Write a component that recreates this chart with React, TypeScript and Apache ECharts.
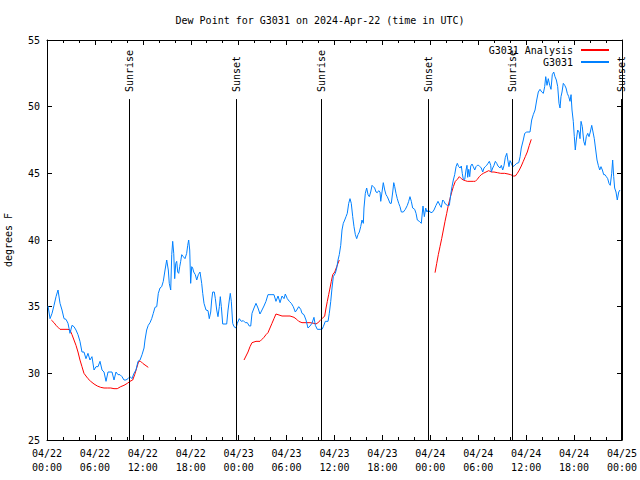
import React, { useEffect, useRef } from "react";
import * as echarts from "echarts";

// hours since 2024-04-22 00:00 UTC, dew point (°F)
const g3031Obs: [number, number][] = [
  [0.13, 35.05], [0.38, 34.1], [0.63, 34.5], [0.88, 35.1], [1.13, 35.75], [1.38, 36.25], [1.63, 35.25], [1.88, 34.75],
  [2.13, 34.1], [2.38, 34.05], [2.63, 33.75], [2.88, 33.0], [3.13, 33.6], [3.38, 33.5], [3.63, 33.25], [3.88, 32.9],
  [4.13, 32.4], [4.38, 31.6], [4.63, 31.6], [4.88, 31.1], [5.13, 31.5], [5.38, 31.0], [5.63, 31.25], [5.89, 30.25],
  [6.14, 30.5], [6.39, 30.5], [6.64, 30.9], [6.89, 30.25], [7.14, 30.1], [7.39, 29.4], [7.64, 30.1], [7.89, 30.1],
  [8.14, 30.1], [8.39, 29.5], [8.64, 30.1], [8.89, 29.9], [9.14, 29.9], [9.39, 29.75], [9.64, 29.5], [9.89, 29.5],
  [10.14, 29.6], [10.39, 29.75], [10.64, 29.6], [10.89, 30.0], [11.14, 30.25], [11.4, 30.9], [11.65, 31.0], [11.9, 31.4],
  [12.15, 31.9], [12.27, 32.5], [12.48, 33.25], [12.68, 33.6], [12.9, 33.8], [13.11, 34.1], [13.31, 34.5], [13.52, 34.95],
  [13.74, 35.0], [13.94, 36.0], [14.15, 36.4], [14.36, 36.5], [14.56, 36.9], [14.78, 37.75], [14.99, 38.5], [15.19, 37.75],
  [15.31, 36.75], [15.49, 36.25], [15.62, 38.9], [15.74, 39.9], [15.87, 39.0], [15.99, 37.1], [16.12, 38.25], [16.24, 38.4],
  [16.37, 37.6], [16.49, 37.5], [16.62, 38.0], [16.74, 38.4], [16.87, 38.9], [17.07, 38.75], [17.28, 38.6], [17.49, 39.0],
  [17.62, 39.6], [17.74, 40.0], [17.87, 39.25], [17.99, 36.75], [18.12, 38.0], [18.24, 37.9], [18.37, 37.6], [18.57, 37.4],
  [18.75, 37.0], [18.95, 37.4], [19.16, 37.6], [19.37, 36.75], [19.5, 36.0], [19.66, 35.25], [19.91, 34.75], [20.16, 34.7],
  [20.32, 34.1], [20.5, 34.6], [20.62, 35.5], [20.75, 36.1], [20.95, 36.1], [21.08, 35.6], [21.25, 34.75], [21.41, 34.25],
  [21.58, 35.0], [21.7, 35.75], [21.83, 35.0], [22.0, 33.7], [22.29, 33.7], [22.5, 33.7], [22.67, 34.75], [22.83, 35.5],
  [22.95, 36.0], [23.08, 35.4], [23.25, 33.75], [23.42, 33.5], [23.67, 33.4], [23.83, 33.75], [24.08, 34.1], [24.33, 33.9],
  [24.58, 33.95], [24.83, 33.8], [25.08, 33.8], [25.33, 33.55], [25.51, 33.55], [25.67, 34.5], [25.92, 34.9], [26.17, 35.25],
  [26.42, 34.9], [26.67, 34.45], [26.92, 34.75], [27.17, 35.05], [27.42, 35.4], [27.67, 35.9], [27.92, 35.9], [28.17, 35.9],
  [28.42, 35.9], [28.67, 35.4], [28.93, 35.8], [29.18, 35.3], [29.43, 35.8], [29.68, 35.6], [29.84, 35.95], [30.09, 35.6],
  [30.34, 35.4], [30.59, 35.25], [30.84, 35.0], [31.09, 34.6], [31.27, 34.75], [31.52, 35.0], [31.77, 34.8], [31.93, 34.5],
  [32.18, 34.4], [32.43, 34.0], [32.68, 33.4], [32.93, 33.55], [33.18, 33.75], [33.43, 34.2], [33.6, 33.6], [33.85, 33.3],
  [34.19, 33.3], [34.44, 33.3], [34.6, 33.5], [34.85, 33.9], [35.19, 33.9], [35.35, 34.5], [35.53, 35.4], [35.69, 36.4],
  [35.85, 37.25], [36.1, 37.5], [36.28, 37.9], [36.44, 38.5], [36.6, 38.9], [36.78, 39.6], [36.94, 40.75], [37.1, 41.25],
  [37.28, 41.5], [37.44, 41.75], [37.6, 42.0], [37.78, 42.75], [37.94, 43.1], [38.1, 42.75], [38.28, 41.75], [38.44, 41.0],
  [38.61, 40.4], [38.78, 40.1], [38.94, 40.4], [39.11, 40.6], [39.28, 41.0], [39.44, 41.5], [39.61, 41.25], [39.69, 42.4],
  [39.86, 43.5], [40.03, 43.9], [40.2, 43.4], [40.36, 43.25], [40.53, 43.6], [40.7, 44.1], [40.86, 44.0], [41.03, 43.9],
  [41.2, 43.6], [41.36, 43.55], [41.54, 43.7], [41.7, 43.6], [41.79, 42.9], [41.95, 43.6], [42.11, 44.3], [42.29, 43.75],
  [42.45, 43.4], [42.61, 43.25], [42.79, 43.0], [42.95, 42.75], [43.11, 42.75], [43.29, 43.6], [43.42, 44.3], [43.54, 44.0],
  [43.7, 43.5], [43.86, 43.1], [44.04, 42.75], [44.2, 42.5], [44.37, 42.1], [44.62, 42.1], [44.87, 42.3], [45.12, 42.6],
  [45.29, 42.9], [45.45, 43.25], [45.62, 42.9], [45.79, 42.4], [46.04, 42.3], [46.21, 42.0], [46.37, 41.5], [46.62, 41.4],
  [46.87, 41.25], [47.08, 42.55], [47.25, 41.75], [47.42, 42.4], [47.58, 42.1], [47.75, 42.25], [47.96, 42.1], [48.21, 42.05],
  [48.46, 42.25], [48.71, 42.6], [48.96, 42.9], [49.21, 42.6], [49.37, 42.45], [49.55, 43.0], [49.71, 42.9], [49.88, 42.7],
  [50.13, 42.6], [50.38, 42.6], [50.55, 43.4], [50.71, 44.0], [50.88, 44.5], [51.05, 44.9], [51.22, 45.5], [51.38, 45.75],
  [51.55, 45.5], [51.72, 45.4], [51.88, 45.55], [52.0, 45.0], [52.13, 44.55], [52.31, 44.55], [52.47, 45.25], [52.59, 45.6],
  [52.68, 44.7], [52.81, 45.3], [52.93, 44.75], [53.06, 45.55], [53.22, 45.7], [53.38, 45.5], [53.56, 45.25], [53.72, 45.5],
  [53.88, 45.6], [54.06, 45.6], [54.22, 45.5], [54.38, 45.4], [54.56, 45.1], [54.72, 45.4], [54.88, 45.5], [55.06, 45.6],
  [55.22, 45.75], [55.39, 45.9], [55.56, 45.6], [55.63, 45.1], [55.81, 45.4], [55.97, 45.6], [56.14, 45.9], [56.31, 45.75],
  [56.47, 45.55], [56.73, 45.4], [56.89, 45.6], [57.06, 45.25], [57.23, 45.6], [57.39, 46.2], [57.57, 46.5], [57.73, 45.9],
  [57.85, 45.5], [57.98, 45.95], [58.14, 45.75], [58.32, 45.5], [58.57, 45.6], [58.82, 45.75], [59.07, 45.8], [59.24, 46.25],
  [59.39, 46.9], [59.64, 47.5], [59.82, 48.0], [60.07, 48.1], [60.48, 48.1], [60.69, 49.0], [60.89, 49.4], [61.11, 49.75],
  [61.32, 50.5], [61.52, 51.1], [61.73, 51.3], [61.95, 51.1], [62.15, 51.0], [62.32, 51.5], [62.45, 52.25], [62.61, 51.6],
  [62.77, 52.1], [62.95, 51.6], [63.11, 51.3], [63.27, 52.4], [63.45, 52.6], [63.61, 52.25], [63.78, 52.0], [63.95, 51.5],
  [64.11, 50.25], [64.24, 49.9], [64.36, 50.75], [64.49, 51.1], [64.65, 51.75], [64.83, 51.6], [64.99, 51.4], [65.15, 51.0],
  [65.33, 50.75], [65.49, 50.4], [65.62, 50.9], [65.74, 49.75], [65.9, 48.9], [66.03, 47.75], [66.15, 46.75], [66.28, 47.5],
  [66.45, 48.25], [66.62, 48.1], [66.74, 47.6], [66.87, 48.9], [67.03, 48.5], [67.21, 47.4], [67.37, 47.1], [67.53, 47.75],
  [67.71, 48.0], [67.87, 47.75], [68.03, 48.1], [68.21, 48.6], [68.37, 48.1], [68.53, 47.6], [68.71, 46.75], [68.87, 46.0],
  [69.03, 45.6], [69.21, 45.25], [69.37, 45.5], [69.54, 45.25], [69.71, 44.9], [69.87, 44.9], [70.04, 44.75], [70.21, 44.6],
  [70.37, 44.25], [70.53, 44.1], [70.71, 45.0], [70.83, 46.0], [70.96, 44.75], [71.08, 43.9], [71.25, 43.6], [71.41, 43.0],
  [71.59, 43.6], [71.75, 43.75],
];

const analysisSeg1: [number, number][] = [
  [0.54, 34.0], [0.88, 33.8], [1.13, 33.6], [1.38, 33.45], [1.63, 33.3], [2.13, 33.3], [2.63, 33.3], [2.88, 33.25],
  [3.13, 32.9], [3.38, 32.5], [3.63, 32.1], [3.88, 31.6], [4.13, 31.0], [4.38, 30.5], [4.63, 30.0], [4.88, 29.8],
  [5.13, 29.6], [5.47, 29.4], [5.89, 29.2], [6.3, 29.05], [6.72, 28.95], [7.14, 28.9], [7.55, 28.9], [7.98, 28.9],
  [8.39, 28.85], [8.8, 28.85], [9.23, 29.0], [9.64, 29.1], [10.06, 29.25], [10.39, 29.4], [10.73, 29.5], [10.98, 29.9],
  [11.23, 30.4], [11.48, 30.9], [11.73, 30.9], [11.98, 30.75], [12.68, 30.45],
];
const analysisSeg2: [number, number][] = [
  [24.67, 31.0], [24.92, 31.3], [25.17, 31.6], [25.42, 32.0], [25.67, 32.3], [26.17, 32.4], [26.67, 32.4], [26.92, 32.55],
  [27.17, 32.7], [27.42, 32.9], [27.67, 33.05], [27.92, 33.4], [28.17, 33.75], [28.42, 34.1], [28.67, 34.45], [28.93, 34.4],
  [29.43, 34.3], [29.93, 34.3], [30.43, 34.3], [30.93, 34.2], [31.27, 34.05], [31.52, 33.9], [31.93, 33.8], [32.43, 33.8],
  [32.93, 33.8], [33.43, 33.75], [33.68, 33.7], [33.93, 33.8], [34.19, 33.95], [34.44, 34.1], [34.77, 34.3], [34.94, 34.9],
  [35.1, 35.4], [35.27, 35.9], [35.44, 36.4], [35.6, 36.9], [35.78, 37.4], [36.03, 37.6], [36.28, 38.0], [36.44, 38.25],
  [36.6, 38.5],
];
const analysisSeg3: [number, number][] = [
  [48.59, 37.55], [48.8, 38.25], [49.0, 38.9], [49.21, 39.5], [49.42, 40.1], [49.63, 40.75], [49.84, 41.4], [50.05, 42.0],
  [50.25, 42.6], [50.46, 43.1], [50.68, 43.6], [50.88, 44.0], [51.13, 44.4], [51.38, 44.55], [51.63, 44.75], [51.88, 44.6],
  [52.13, 44.5], [52.38, 44.45], [52.63, 44.4], [52.97, 44.4], [53.38, 44.4], [53.63, 44.4], [53.88, 44.55], [54.13, 44.75],
  [54.38, 44.9], [54.63, 45.0], [54.97, 45.1], [55.31, 45.2], [55.64, 45.1], [55.97, 45.1], [56.39, 45.05], [56.81, 45.0],
  [57.31, 45.0], [57.73, 44.95], [58.06, 44.9], [58.39, 44.8], [58.64, 44.8], [58.89, 45.0], [59.14, 45.25], [59.39, 45.55],
  [59.64, 45.9], [59.89, 46.25], [60.14, 46.6], [60.39, 47.1], [60.64, 47.55],
];

const sunEventNames = ["Sunrise", "Sunset", "Sunrise", "Sunset", "Sunrise", "Sunset"];
const sunEventHours = [10.27, 23.67, 34.31, 47.71, 58.23, 71.88];

const yMin = 25;
const yMax = 55;
const lineTopValue = 50.57;

const FONT = "DejaVu Sans Mono";

export default function App() {
  const ref = useRef<HTMLDivElement>(null);
  useEffect(() => {
    if (!ref.current) return;
    const chart = echarts.init(ref.current, undefined, { renderer: "svg" });
    const pad = (n: number) => (n < 10 ? "0" + n : "" + n);
    const xFmt = (v: number) => {
      const d = 22 + Math.floor(v / 24);
      const h = v % 24;
      return `04/${d}\n${pad(h)}:00`;
    };
    const markData: any[] = [];
    sunEventHours.forEach((t, i) => {
      markData.push([
        { coord: [t, yMin], label: { show: false } },
        { coord: [t, lineTopValue] },
      ]);
      markData.push([
        {
          coord: [t, lineTopValue],
          lineStyle: { color: "rgba(0,0,0,0)", width: 0 },
          label: {
            show: true,
            formatter: sunEventNames[i],
            position: "insideStart",
            distance: 7,
            color: "#000",
            fontFamily: FONT,
            fontSize: 10,
          },
        },
        { coord: [t, yMax] },
      ]);
    });
    const axisCommon = {
      type: "value" as const,
      axisLine: { show: true, onZero: false, lineStyle: { color: "#000", width: 1 } },
      splitLine: { show: false },
    };
    const redStyle = { color: "#ff0000", width: 1 };
    chart.setOption({
      animation: false,
      backgroundColor: "#fff",
      title: {
        text: "Dew Point for G3031 on 2024-Apr-22 (time in UTC)",
        left: "center",
        top: 10,
        textStyle: { fontFamily: FONT, fontSize: 10, fontWeight: "normal", color: "#000" },
      },
      legend: {
        orient: "vertical",
        right: 25,
        top: 40,
        align: "right",
        itemWidth: 28,
        itemHeight: 10,
        itemGap: 2,
        itemStyle: { opacity: 0 },
        textStyle: { fontFamily: FONT, fontSize: 10, color: "#000", padding: [0, 3, 0, 0] },
        data: ["G3031 Analysis", "G3031"],
      },
      grid: { left: 47, right: 18, top: 40, bottom: 40, containLabel: false, outerBoundsMode: "none" },
      xAxis: [
        {
          ...axisCommon,
          position: "bottom",
          min: 0,
          max: 72,
          interval: 6,
          axisTick: { show: true, inside: true, length: 5, lineStyle: { color: "#000" } },
          minorTick: { show: true, splitNumber: 3, length: 3, lineStyle: { color: "#000" } },
          axisLabel: {
            formatter: xFmt,
            fontFamily: FONT,
            fontSize: 10,
            color: "#000",
            margin: 6,
            lineHeight: 14,
          },
        },
        {
          ...axisCommon,
          position: "top",
          min: 0,
          max: 72,
          interval: 6,
          axisTick: { show: true, inside: true, length: 5, lineStyle: { color: "#000" } },
          minorTick: { show: true, splitNumber: 3, length: 3, lineStyle: { color: "#000" } },
          axisLabel: { show: false },
        },
      ],
      yAxis: [
        {
          ...axisCommon,
          position: "left",
          min: yMin,
          max: yMax,
          interval: 5,
          name: "degrees F",
          nameLocation: "middle",
          nameGap: 34,
          nameTextStyle: { fontFamily: FONT, fontSize: 10, color: "#000" },
          axisTick: { show: true, inside: true, length: 5, lineStyle: { color: "#000" } },
          axisLabel: { fontFamily: FONT, fontSize: 10, color: "#000", margin: 7 },
        },
        {
          ...axisCommon,
          position: "right",
          min: yMin,
          max: yMax,
          interval: 5,
          axisTick: { show: true, inside: true, length: 5, lineStyle: { color: "#000" } },
          axisLabel: { show: false },
        },
      ],
      series: [
        {
          name: "G3031 Analysis",
          type: "line",
          data: analysisSeg1,
          symbol: "none",
          lineStyle: redStyle,
          itemStyle: { color: "#ff0000" },
        },
        {
          name: "G3031 Analysis",
          type: "line",
          data: analysisSeg2,
          symbol: "none",
          lineStyle: redStyle,
          itemStyle: { color: "#ff0000" },
        },
        {
          name: "G3031 Analysis",
          type: "line",
          data: analysisSeg3,
          symbol: "none",
          lineStyle: redStyle,
          itemStyle: { color: "#ff0000" },
        },
        {
          name: "G3031",
          type: "line",
          data: g3031Obs,
          symbol: "none",
          lineStyle: { color: "#0080ff", width: 1 },
          itemStyle: { color: "#0080ff" },
          markLine: {
            silent: true,
            symbol: ["none", "none"],
            lineStyle: { color: "#000", width: 1, type: "solid" },
            label: { show: false },
            data: markData,
          },
        },
      ],
    });
    return () => chart.dispose();
  }, []);
  return (
    <div
      ref={ref}
      style={{ position: "fixed", left: 0, top: 0, width: 640, height: 480 }}
    />
  );
}
